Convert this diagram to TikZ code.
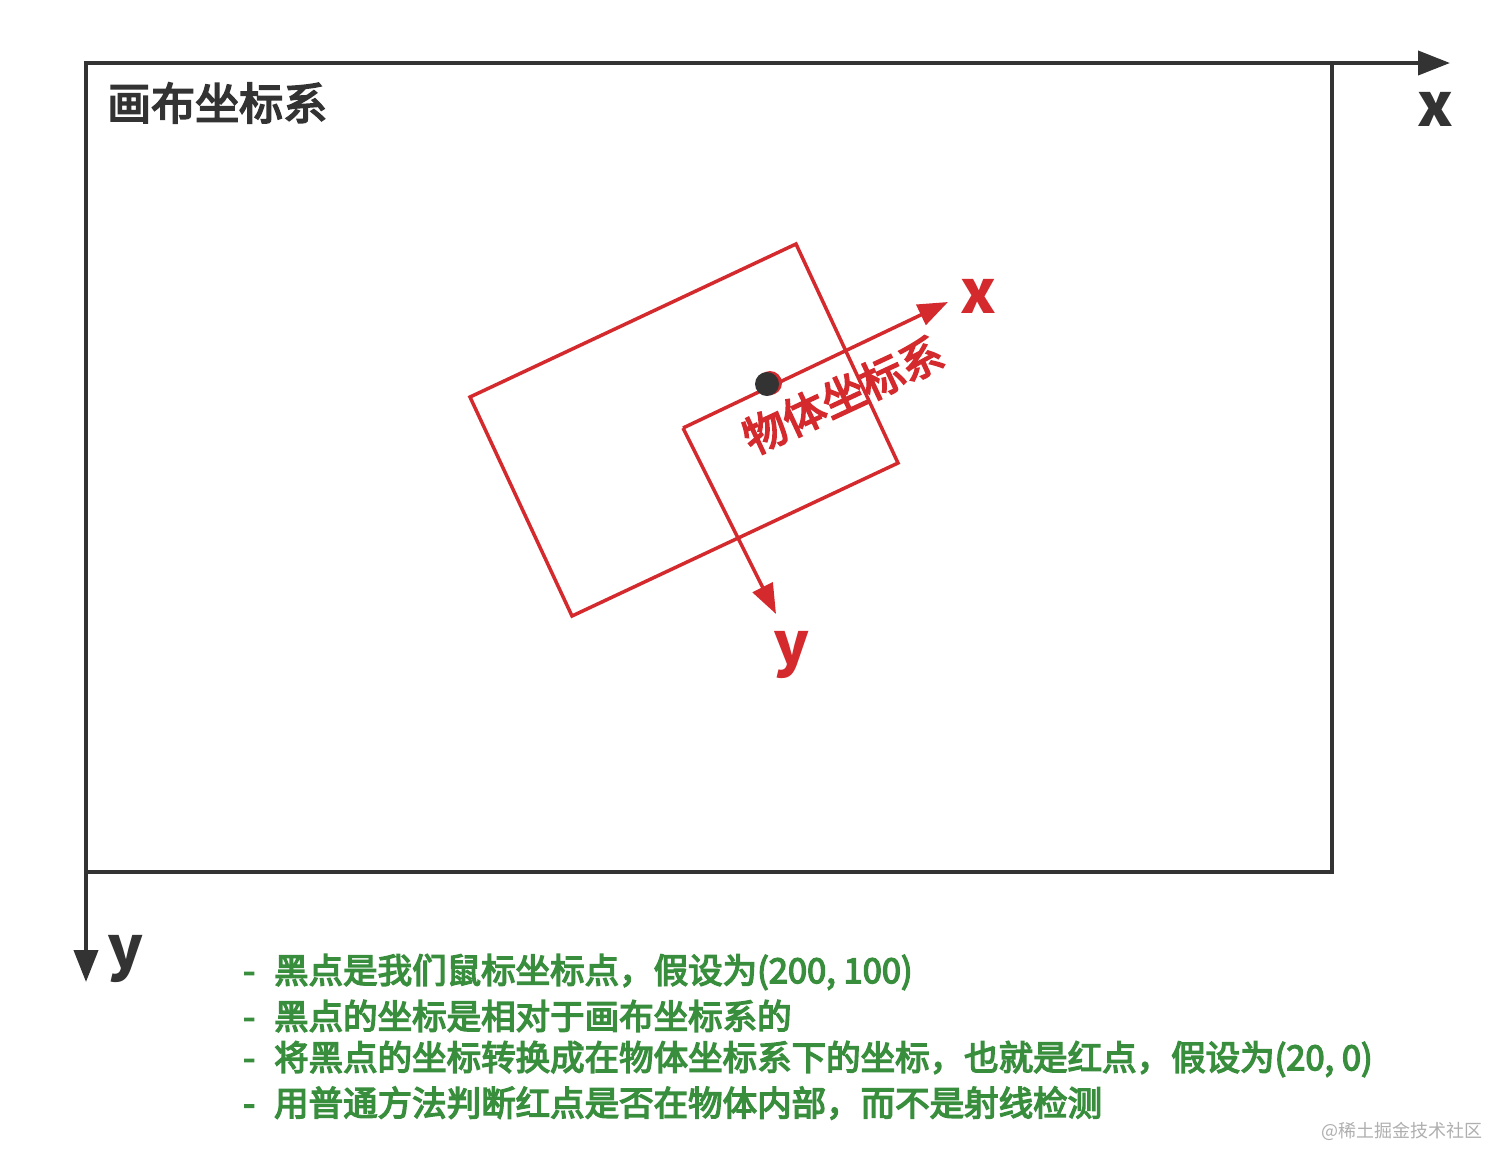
\documentclass[tikz,border=0pt]{standalone}
\usepackage{fontspec}
\setmainfont{Noto Sans CJK SC}
\newfontfamily\medfont[FakeBold=4]{Noto Sans CJK SC}
\usetikzlibrary{arrows.meta}
\definecolor{axisgray}{RGB}{51,51,51}
\definecolor{objred}{RGB}{212,42,46}
\definecolor{notegreen}{RGB}{56,142,60}
\definecolor{markgray}{RGB}{175,175,175}
\begin{document}
\begin{tikzpicture}[x=1pt,y=-1pt,
  canvasline/.style={draw=axisgray,line width=4pt,line join=miter},
  axisarrows/.style={{Triangle[length=32pt,width=24pt]}-{Triangle[length=32pt,width=24pt]}},
  objline/.style={draw=objred,line width=3.5pt,line join=miter},
  objarrow/.style={-{Triangle[length=30pt,width=22pt]}},
  txt/.style={inner sep=0pt},
  bigchar/.style={txt,font=\bfseries\fontsize{60}{60}\selectfont},
  note/.style={txt,anchor=west,text=notegreen,font=\medfont\fontsize{34.5}{40}\selectfont}]
\useasboundingbox[fill=white] (0,0) rectangle (1512,1171);
% canvas frame
\coordinate (O) at (86,63);
\coordinate (XT) at (1450,63);
\coordinate (YT) at (86,982);
\coordinate (TR) at (1332,63);
\coordinate (BR) at (1332,872);
\coordinate (BL) at (86,872);
\draw[canvasline] (BL) -- (BR) -- (TR);
\draw[canvasline,axisarrows] (YT) -- (O) -- (XT);
\node[txt,anchor=west,text=axisgray,font=\medfont\fontsize{44}{50}\selectfont] (title) at (107,103) {画布坐标系};
\node[bigchar,text=axisgray] (xlab) at (1435,109) {x};
\node[bigchar,text=axisgray] (ylab) at (126,959) {y};
% object
\coordinate (R1) at (470,397);
\coordinate (R2) at (796,244);
\coordinate (R3) at (898,463);
\coordinate (R4) at (572,616);
\draw[objline] (R1) -- (R2) -- (R3) -- (R4) -- cycle;
\coordinate (LO) at (683,428);
\coordinate (LX) at (948,302);
\coordinate (LY) at (776,614);
\draw[objline,objarrow] (LO) -- (LX);
\draw[objline,objarrow] (LO) -- (LY);
\node[circle,fill=objred,minimum size=24pt,inner sep=0pt] (reddot) at (770,383) {};
\node[circle,fill=axisgray,minimum size=24pt,inner sep=0pt] (dot) at (767,384) {};
\node[txt,rotate=25,text=objred,font=\medfont\fontsize{43}{43}\selectfont] (objtitle) at (843,395) {物体坐标系};
\node[bigchar,text=objred] (rxlab) at (978,296) {x};
\node[bigchar,text=objred] (rylab) at (792,655) {y};
% notes
\node[note] (n1) at (243,972) {-\hspace{0.55em}黑点是我们鼠标坐标点，假设为(200, 100)};
\node[note] (n2) at (243,1016) {-\hspace{0.55em}黑点的坐标是相对于画布坐标系的};
\node[note] (n3) at (243,1059) {-\hspace{0.55em}将黑点的坐标转换成在物体坐标系下的坐标，也就是红点，假设为(20, 0)};
\node[note] (n4) at (243,1103) {-\hspace{0.55em}用普通方法判断红点是否在物体内部，而不是射线检测};
\node[txt,text=markgray,font=\fontsize{18}{18}\selectfont] (mark) at (1402,1131) {@稀土掘金技术社区};
\end{tikzpicture}
\end{document}
